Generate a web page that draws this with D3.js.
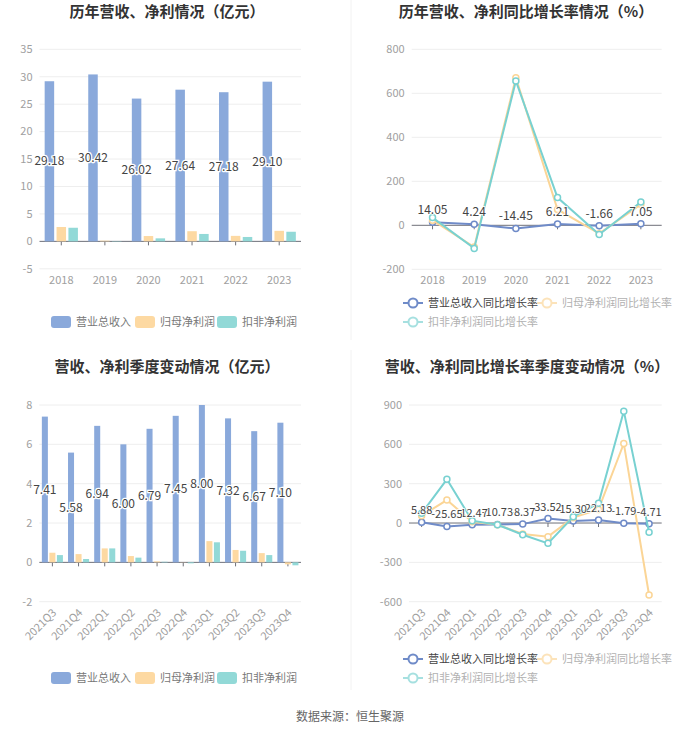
<!DOCTYPE html>
<html>
<head>
<meta charset="utf-8">
<script src="https://cdn.jsdelivr.net/npm/d3@7/dist/d3.min.js"></script>
<style>
  body { margin: 0; background: #fff; }
  svg { display: block; font-family: 'Noto Sans CJK SC', 'Noto Sans', sans-serif; }
</style>
</head>
<body>
<div id="chart"></div>
<script>
// yearly data
const years = ['2018', '2019', '2020', '2021', '2022', '2023']
const yearRevenue = [29.18, 30.42, 26.02, 27.64, 27.18, 29.10]
const yearNetProfit = [2.62, 0.13, 0.97, 1.85, 1.0, 1.92]
const yearDeducted = [2.48, -0.06, 0.55, 1.35, 0.8, 1.75]
const yearRevenueGrowth = [14.05, 4.24, -14.45, 6.21, -1.66, 7.05]
const yearNetProfitGrowth = [23, -99, 671, 72, -38, 95]
const yearDeductedGrowth = [35, -105, 656, 126, -42, 106]

// quarterly data
const quarters = ['2021Q3', '2021Q4', '2022Q1', '2022Q2', '2022Q3', '2022Q4', '2023Q1', '2023Q2', '2023Q3', '2023Q4']
const quarterRevenue = [7.41, 5.58, 6.94, 6.00, 6.79, 7.45, 8.00, 7.32, 6.67, 7.10]
const quarterNetProfit = [0.49, 0.42, 0.71, 0.32, 0.05, 0.01, 1.08, 0.63, 0.47, -0.1]
const quarterDeducted = [0.37, 0.17, 0.71, 0.24, 0.03, -0.05, 1.02, 0.59, 0.37, -0.15]
const quarterRevenueGrowth = [5.88, -25.65, -12.47, -10.73, -8.37, 33.52, 15.30, 22.13, -1.79, -4.71]
const quarterNetProfitGrowth = [56, 175, 10, -13, -84, -104, 41, 104, 607, -549]
const quarterDeductedGrowth = [74, 333, 18, -13, -89, -155, 48, 150, 853, -71]

// axis ticks
const yearBarTicks = [-5, 0, 5, 10, 15, 20, 25, 30, 35]
const yearLineTicks = [-200, 0, 200, 400, 600, 800]
const quarterBarTicks = [-2, 0, 2, 4, 6, 8]
const quarterLineTicks = [-600, -300, 0, 300, 600, 900]

const barNames = ['营业总收入', '归母净利润', '扣非净利润']
const lineNames = ['营业总收入同比增长率', '归母净利润同比增长率', '扣非净利润同比增长率']
const barColors = ['#8aa9db', '#fdd9a2', '#92d9d7']
const lineColors = ['#6f8bc8', '#fbd596', '#78d1d1']

const width = 700
const height = 734

const svg = d3
  .select('#chart')
  .append('svg')
  .attr('width', width)
  .attr('height', height)
  .attr('viewBox', [0, 0, width, height])

svg.append('rect').attr('width', width).attr('height', height).attr('fill', '#fff')

// faint separators between panels
svg.append('line')
  .attr('x1', 351).attr('x2', 351).attr('y1', 0).attr('y2', 340)
  .attr('stroke', '#f2f2f2')
svg.append('line')
  .attr('x1', 351).attr('x2', 351).attr('y1', 350).attr('y2', 690)
  .attr('stroke', '#f2f2f2')

function drawTitle(text, x, y) {
  svg.append('text')
    .attr('x', x)
    .attr('y', y)
    .attr('text-anchor', 'middle')
    .attr('font-size', 15)
    .attr('font-weight', 'bold')
    .attr('fill', '#333')
    .text(text)
}

function drawFrame(cfg) {
  const x = d3.scaleBand().domain(cfg.cats).range(cfg.xRange).padding(0)
  const y = d3.scaleLinear().domain(d3.extent(cfg.ticks)).range(cfg.yRange)
  const g = svg.append('g')

  // grid + y labels
  g.selectAll('.grid')
    .data(cfg.ticks.filter((t) => t !== 0))
    .join('line')
    .attr('x1', cfg.xRange[0])
    .attr('x2', cfg.xRange[1])
    .attr('y1', (d) => y(d))
    .attr('y2', (d) => y(d))
    .attr('stroke', '#eeeeee')

  g.selectAll('.ylabel')
    .data(cfg.ticks)
    .join('text')
    .attr('x', cfg.xRange[0] - 7)
    .attr('y', (d) => y(d))
    .attr('dy', '0.35em')
    .attr('text-anchor', 'end')
    .attr('font-size', 11)
    .attr('fill', '#a0a0a0')
    .text((d) => d)

  // zero axis line with ticks
  g.append('line')
    .attr('x1', cfg.xRange[0])
    .attr('x2', cfg.xRange[1])
    .attr('y1', y(0))
    .attr('y2', y(0))
    .attr('stroke', '#6e7079')
  g.selectAll('.tick')
    .data(cfg.cats)
    .join('line')
    .attr('x1', (d) => x(d) + x.bandwidth() / 2)
    .attr('x2', (d) => x(d) + x.bandwidth() / 2)
    .attr('y1', y(0))
    .attr('y2', y(0) + 4)
    .attr('stroke', '#6e7079')

  // category labels at the bottom of the grid
  const bottom = cfg.yRange[0]
  if (cfg.rotate) {
    g.selectAll('.xlabel')
      .data(cfg.cats)
      .join('text')
      .attr('transform', (d) => `translate(${x(d) + x.bandwidth() / 2 + 2}, ${bottom + 9}) rotate(-45)`)
      .attr('text-anchor', 'end')
      .attr('dy', '0.35em')
      .attr('font-size', 11)
      .attr('fill', '#a0a0a0')
      .text((d) => d)
  } else {
    g.selectAll('.xlabel')
      .data(cfg.cats)
      .join('text')
      .attr('x', (d) => x(d) + x.bandwidth() / 2)
      .attr('y', bottom + 15)
      .attr('text-anchor', 'middle')
      .attr('font-size', 11)
      .attr('fill', '#a0a0a0')
      .text((d) => d)
  }
  return { x, y, g }
}

function drawBarChart(cfg) {
  drawTitle(cfg.title, cfg.titleX, cfg.titleY)
  const { x, y, g } = drawFrame(cfg)
  const barW = x.bandwidth() * cfg.barRatio
  const gap = barW * 0.25
  const groupW = barW * 3 + gap * 2

  cfg.series.forEach((values, i) => {
    g.append('g')
      .selectAll('rect')
      .data(values)
      .join('rect')
      .attr('x', (d, j) => x(cfg.cats[j]) + (x.bandwidth() - groupW) / 2 + i * (barW + gap))
      .attr('y', (d) => y(Math.max(d, 0)))
      .attr('width', barW)
      .attr('height', (d) => Math.abs(y(d) - y(0)))
      .attr('fill', barColors[i])
  })

  // revenue labels inside the bars
  g.append('g')
    .selectAll('text')
    .data(cfg.series[0])
    .join('text')
    .attr('x', (d, j) => x(cfg.cats[j]) + (x.bandwidth() - groupW) / 2 + barW / 2)
    .attr('y', (d) => (y(d) + y(0)) / 2)
    .attr('dy', '0.35em')
    .attr('text-anchor', 'middle')
    .attr('font-size', 12)
    .attr('fill', '#444')
    .attr('stroke', '#fff')
    .attr('stroke-width', 2.5)
    .attr('paint-order', 'stroke')
    .text((d) => d.toFixed(2))

  // legend
  const legend = svg.append('g')
  cfg.legendX.forEach((lx, i) => {
    legend.append('rect')
      .attr('x', lx)
      .attr('y', cfg.legendY - 6)
      .attr('width', 20)
      .attr('height', 12)
      .attr('rx', 3)
      .attr('fill', barColors[i])
    legend.append('text')
      .attr('x', lx + 25)
      .attr('y', cfg.legendY)
      .attr('dy', '0.35em')
      .attr('font-size', 11)
      .attr('fill', '#777')
      .text(barNames[i])
  })
}

function drawLineChart(cfg) {
  drawTitle(cfg.title, cfg.titleX, cfg.titleY)
  const { x, y, g } = drawFrame(cfg)
  const cx = (j) => x(cfg.cats[j]) + x.bandwidth() / 2
  const line = d3.line().x((d, j) => cx(j)).y((d) => y(d))

  cfg.series.forEach((values, i) => {
    const s = g.append('g')
    s.append('path')
      .datum(values)
      .attr('d', line)
      .attr('fill', 'none')
      .attr('stroke', lineColors[i])
      .attr('stroke-width', 2)
    s.selectAll('circle')
      .data(values)
      .join('circle')
      .attr('cx', (d, j) => cx(j))
      .attr('cy', (d) => y(d))
      .attr('r', 3)
      .attr('fill', '#fff')
      .attr('stroke', lineColors[i])
      .attr('stroke-width', 1.5)
  })

  // labels drawn last-to-first so earlier ones sit on top where they collide
  const labels = cfg.series[0].map((v, j) => ({ v, j })).reverse()
  g.append('g')
    .selectAll('text')
    .data(labels)
    .join('text')
    .attr('x', (d) => cx(d.j))
    .attr('y', (d) => y(d.v) - 8)
    .attr('text-anchor', 'middle')
    .attr('font-size', cfg.labelSize)
    .attr('fill', '#444')
    .attr('stroke', '#fff')
    .attr('stroke-width', 1.5)
    .attr('paint-order', 'stroke')
    .text((d) => d.v.toFixed(2))

  // legend, two rows
  const legend = svg.append('g')
  const spots = [
    [cfg.legendX[0], cfg.legendY[0]],
    [cfg.legendX[1], cfg.legendY[0]],
    [cfg.legendX[0], cfg.legendY[1]],
  ]
  spots.forEach(([lx, ly], i) => {
    const item = legend.append('g').attr('opacity', i === 0 ? 1 : 0.65)
    item.append('line')
      .attr('x1', lx - 10).attr('x2', lx + 10)
      .attr('y1', ly).attr('y2', ly)
      .attr('stroke', lineColors[i])
      .attr('stroke-width', 2)
    item.append('circle')
      .attr('cx', lx).attr('cy', ly).attr('r', 4.5)
      .attr('fill', '#fff')
      .attr('stroke', lineColors[i])
      .attr('stroke-width', 2)
    item.append('text')
      .attr('x', lx + 15)
      .attr('y', ly)
      .attr('dy', '0.35em')
      .attr('font-size', 11)
      .attr('fill', i === 0 ? '#444' : '#888')
      .text(lineNames[i])
  })
}

drawBarChart({
  title: '历年营收、净利情况（亿元）',
  titleX: 167, titleY: 17,
  cats: years,
  series: [yearRevenue, yearNetProfit, yearDeducted],
  ticks: yearBarTicks,
  xRange: [39.5, 301], yRange: [268.8, 49.3],
  barRatio: 0.218,
  legendX: [51, 135, 217], legendY: 322,
})

drawLineChart({
  title: '历年营收、净利同比增长率情况（%）',
  titleX: 526, titleY: 17,
  cats: years,
  series: [yearRevenueGrowth, yearNetProfitGrowth, yearDeductedGrowth],
  ticks: yearLineTicks,
  xRange: [411.7, 661.7], yRange: [269.3, 49.3],
  labelSize: 12,
  legendX: [413, 547], legendY: [303, 322],
})

drawBarChart({
  title: '营收、净利季度变动情况（亿元）',
  titleX: 167, titleY: 372,
  cats: quarters,
  series: [quarterRevenue, quarterNetProfit, quarterDeducted],
  ticks: quarterBarTicks,
  xRange: [39.3, 301], yRange: [601.7, 405],
  barRatio: 0.23,
  legendX: [51, 135, 217], legendY: 678,
  rotate: true,
})

drawLineChart({
  title: '营收、净利同比增长率季度变动情况（%）',
  titleX: 527, titleY: 372,
  cats: quarters,
  series: [quarterRevenueGrowth, quarterNetProfitGrowth, quarterDeductedGrowth],
  ticks: quarterLineTicks,
  xRange: [409, 661.7], yRange: [601.7, 405],
  labelSize: 11,
  legendX: [413, 547], legendY: [659, 678],
  rotate: true,
})

svg.append('text')
  .attr('x', 350)
  .attr('y', 717)
  .attr('dy', '0.35em')
  .attr('text-anchor', 'middle')
  .attr('font-size', 12)
  .attr('fill', '#666')
  .text('数据来源：恒生聚源')
</script>
</body>
</html>
